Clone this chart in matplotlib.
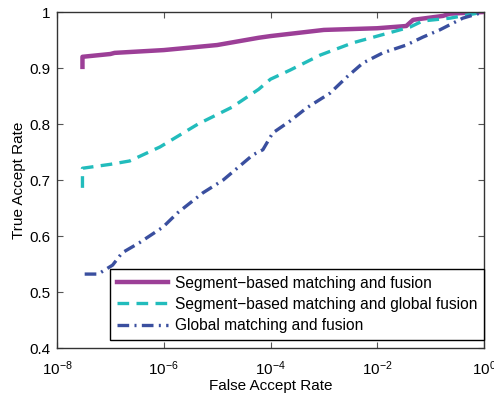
#! /usr/bin/python3

import matplotlib
import matplotlib.pyplot as plt

matplotlib.use('agg')

plt.rcParams['font.family'] = ['Liberation Sans', 'DejaVu Sans']
plt.rcParams['mathtext.fontset'] = 'custom'
plt.rcParams['mathtext.rm'] = 'Liberation Sans'
plt.rcParams['mathtext.it'] = 'Liberation Sans:italic'

labels = ['Segment\u2212based matching and fusion',
          'Segment\u2212based matching and global fusion',
          'Global matching and fusion']
colors = ['#9c3f97', '#22bcbc', '#3a4f9f']

seg_far = [3e-8, 3e-8, 1e-7, 1.2e-7, 1e-6, 1e-5, 6e-5, 1e-4, 1e-3, 1e-2,
           3.5e-2, 4.7e-2, 1.7e-1, 2.3e-1, 1.0]
seg_tar = [0.902, 0.920, 0.925, 0.927, 0.932, 0.941, 0.954, 0.957, 0.968, 0.971,
           0.975, 0.986, 0.993, 0.997, 1.0]

segg_far = [3e-8, 3e-8, 1e-7, 2.3e-7, 8.5e-7, 4.4e-6, 1.9e-5, 6e-5, 1e-4, 2.3e-4,
            8.5e-4, 3.5e-3, 4.1e-2, 7.1e-2, 2.3e-1, 1.0]
segg_tar = [0.686, 0.721, 0.728, 0.734, 0.759, 0.800, 0.830, 0.862, 0.880, 0.896,
            0.923, 0.945, 0.973, 0.984, 0.989, 1.0]

glob_far = [3.3e-8, 5.9e-8, 1.1e-7, 1.66e-7, 3.5e-7, 9.7e-7, 1.8e-6, 5.4e-6, 1.3e-5,
            4.7e-5, 7.2e-5, 1.1e-4, 2.3e-4, 4.8e-4, 1.3e-3, 2.7e-3, 5.4e-3, 1.27e-2,
            3.5e-2, 7.1e-2, 1.48e-1, 4.0e-1, 1.0]
glob_tar = [0.532, 0.532, 0.548, 0.570, 0.588, 0.616, 0.641, 0.677, 0.700,
            0.745, 0.754, 0.784, 0.805, 0.829, 0.855, 0.884, 0.909, 0.927,
            0.941, 0.955, 0.968, 0.989, 1.0]

fig = plt.figure(figsize=(4.94, 4.0), dpi=100)
ax = fig.add_axes([57 / 494, 1 - 348 / 400, 427 / 494, 336 / 400])

ax.plot(seg_far, seg_tar, color=colors[0], lw=3.2, label=labels[0])
ax.plot(segg_far, segg_tar, color=colors[1], lw=2.4, dashes=(3.5, 2.2), label=labels[1])
ax.plot(glob_far, glob_tar, color=colors[2], lw=2.4, dashes=(3.5, 1.6, 0.6, 1.6), label=labels[2])

ax.set_xscale('log')
ax.set_xlim(1e-8, 1)
ax.set_ylim(0.4, 1)
ax.set_xticks([1e-8, 1e-6, 1e-4, 1e-2, 1])
ax.set_xticklabels(['$10^{-8}$', '$10^{-6}$', '$10^{-4}$', '$10^{-2}$', '$10^{0}$'])
ax.minorticks_off()
ax.set_yticks([0.4, 0.5, 0.6, 0.7, 0.8, 0.9, 1.0])
ax.set_yticklabels(['0.4', '0.5', '0.6', '0.7', '0.8', '0.9', '1'])
ax.tick_params(direction='in', top=True, right=True, labelsize=11, length=4, color='#555555')
ax.tick_params(axis='x', pad=8)
ax.tick_params(axis='y', pad=5)
for s in ax.spines.values():
    s.set_linewidth(1.0)
    s.set_color('#333333')

ax.set_xlabel('False Accept Rate', fontsize=11, labelpad=1)
ax.set_ylabel('True Accept Rate', fontsize=11, labelpad=2)

leg = ax.legend(loc='lower right', bbox_to_anchor=(1.0, 8 / 336), borderaxespad=0,
                fontsize=11.2, handlelength=3.3, fancybox=False, framealpha=1,
                edgecolor='black', labelspacing=0.4, borderpad=0.45, handletextpad=0.4)
leg.get_frame().set_linewidth(1.0)

fig.savefig('out.png', dpi=100)
